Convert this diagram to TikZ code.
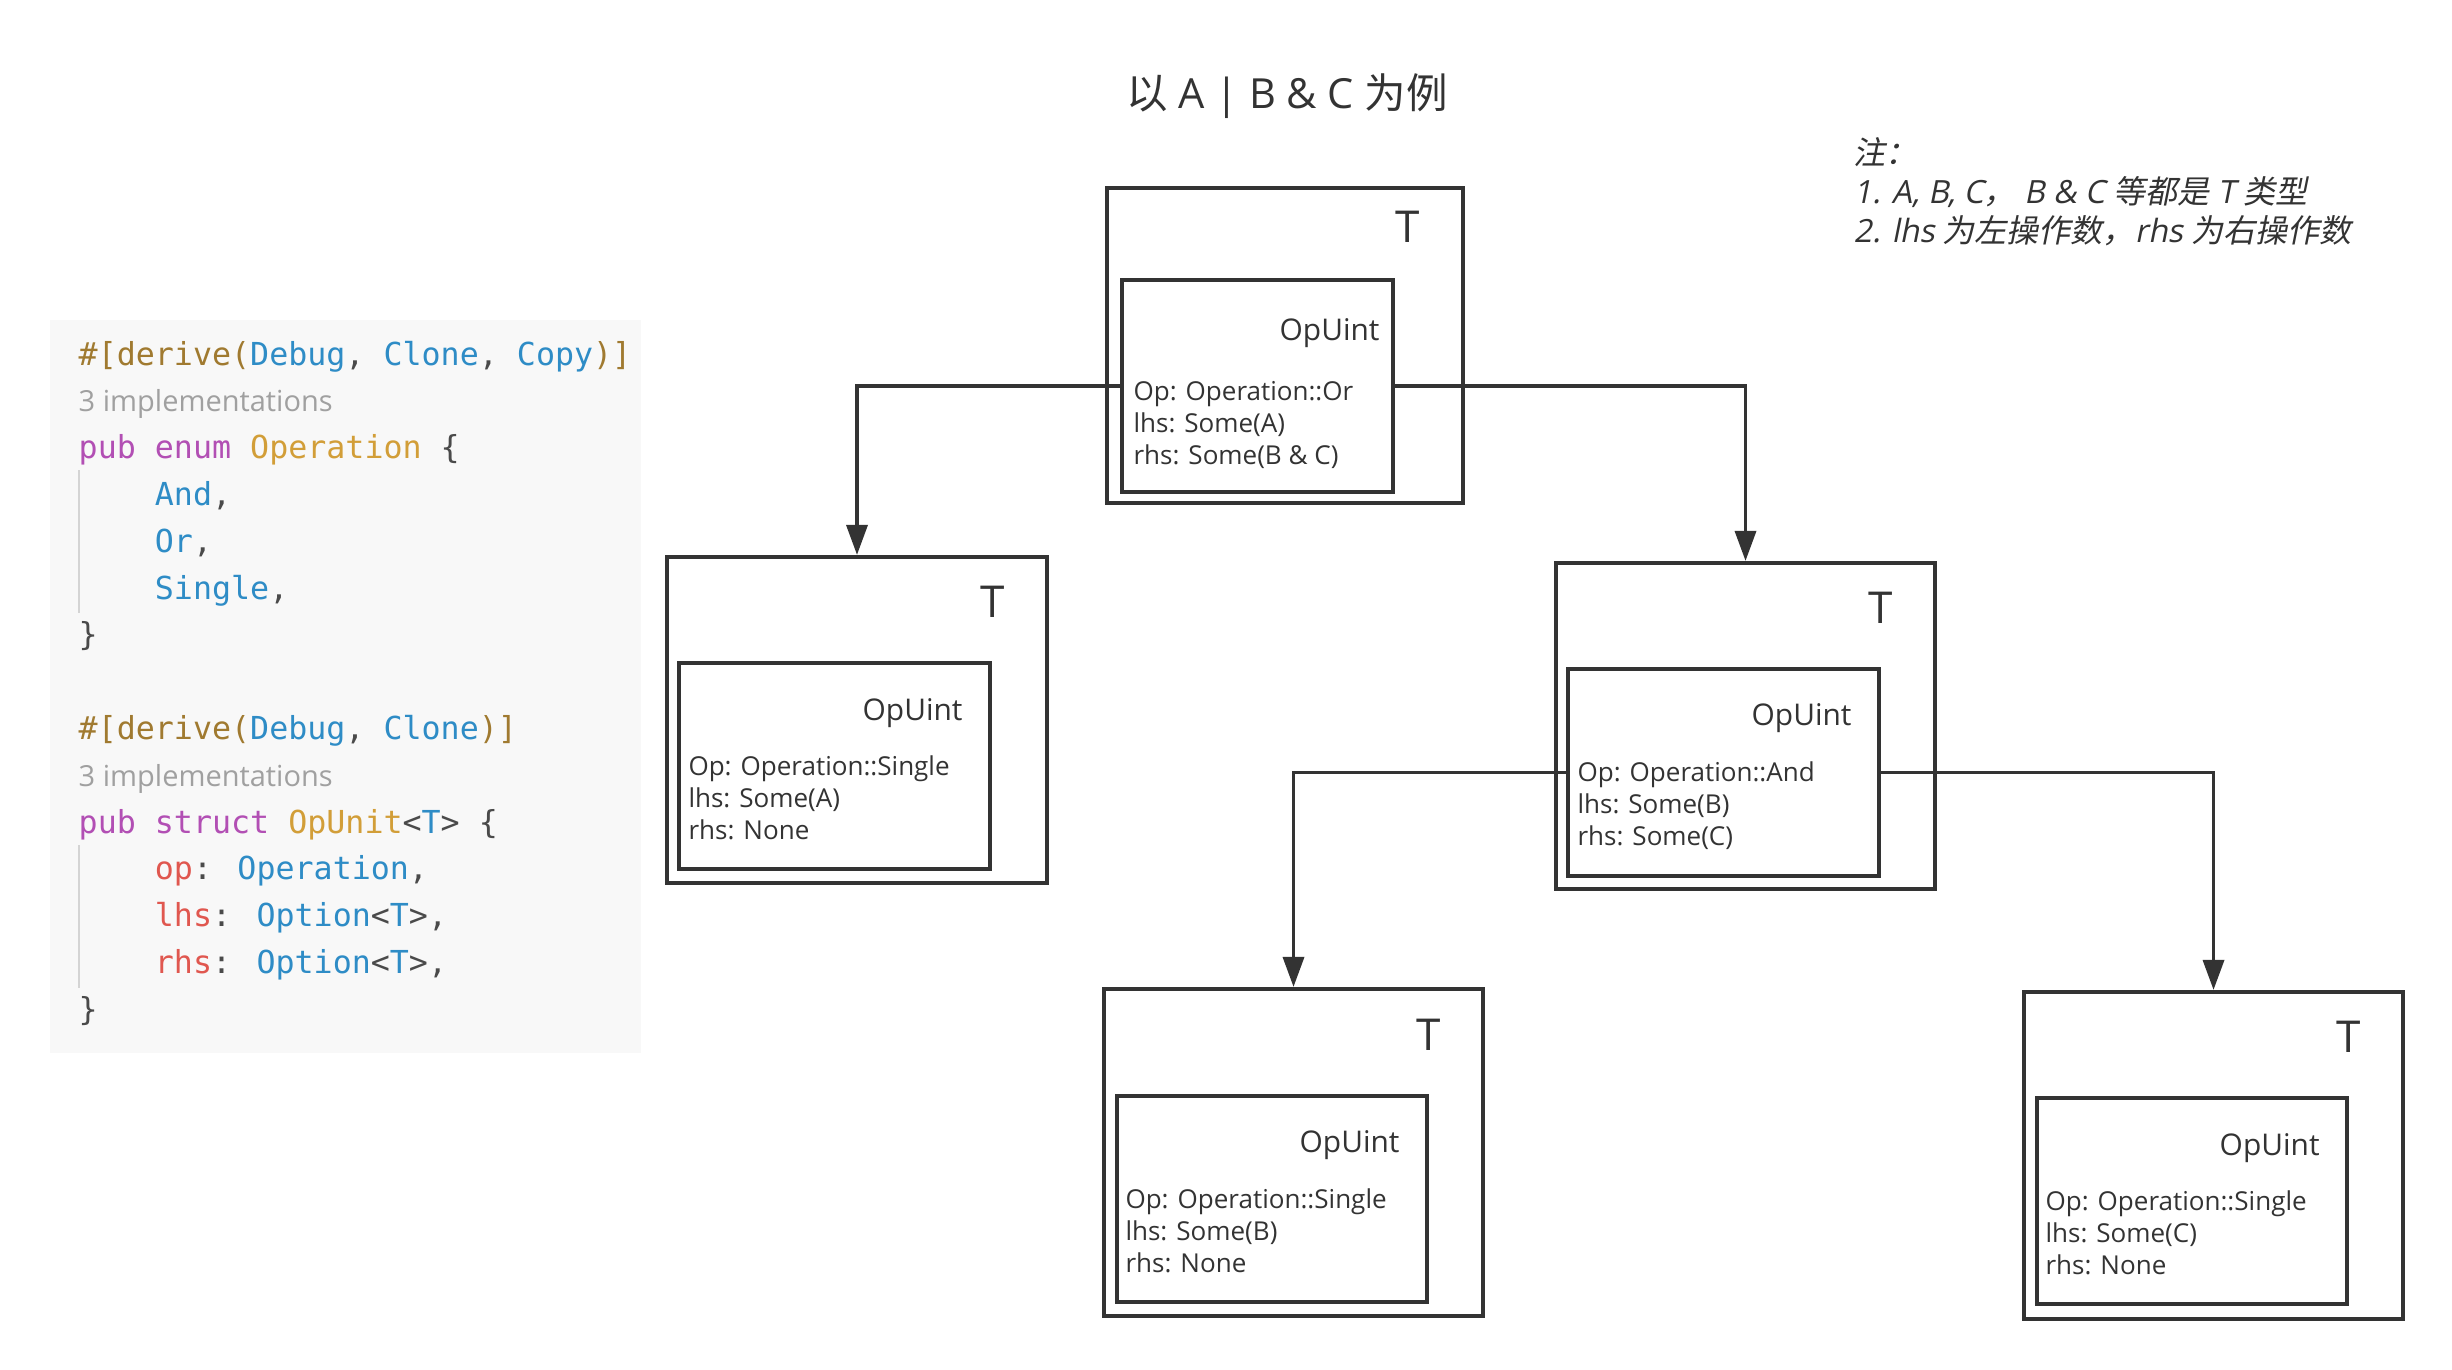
\documentclass[tikz,border=0pt]{standalone}
\usepackage{fontspec}
\setmainfont{Open Sans}
\newfontfamily\cjk{Noto Sans CJK SC}
\newfontfamily\cjkit[FakeSlant=0.2]{Noto Sans CJK SC}
\newfontfamily\latit[FakeSlant=0.2]{Open Sans}
\newfontfamily\codefont{DejaVu Sans Mono}
\usetikzlibrary{arrows.meta}
\definecolor{ink}{HTML}{333333}
\definecolor{codebg}{HTML}{F8F8F8}
\definecolor{cattr}{HTML}{A07A30}
\definecolor{cblue}{HTML}{2E8CC6}
\definecolor{ckw}{HTML}{B24FB4}
\definecolor{ctype}{HTML}{D29E38}
\definecolor{cfield}{HTML}{E0574F}
\definecolor{cpunct}{HTML}{4A4A4A}
\definecolor{cimpl}{HTML}{A0A0A0}
\definecolor{cguide}{HTML}{D4D4D4}
\tikzset{
  obox/.style={draw=ink, line width=1.15pt, inner sep=0pt},
  ibox/.style={draw=ink, line width=1.2pt, inner sep=0pt},
  conn/.style={draw=ink, line width=1pt, -{Triangle[length=3mm,width=2.1mm]}},
  tlab/.style={inner sep=0pt, text=ink, font=\fontsize{12.5}{15}\selectfont, anchor=base east},
  oplab/.style={inner sep=0pt, text=ink, font=\fontsize{8.5}{10}\selectfont, anchor=base east},
  fld/.style={inner sep=0pt, text=ink, font=\fontsize{7.4}{9}\selectfont, anchor=base west},
  codeln/.style={inner sep=0pt, anchor=base west, font=\codefont\fontsize{9.0}{11}\selectfont},
  impl/.style={inner sep=0pt, anchor=base west, text=cimpl, font=\fontsize{8.25}{10}\selectfont},
  notes/.style={inner sep=0pt, anchor=base west, text=ink, font=\fontsize{9.1}{11}\selectfont},
  guide/.style={draw=cguide, line width=0.5pt}
}
\newcommand\fieldtext[5]{%
  \coordinate (#1-o) at ([shift={#2}]#1in.north west);
  \node[fld] (#1-a) at (#1-o) {#3};
  \node[fld] (#1-b) at ([yshift=-9.1pt]#1-o) {#4};
  \node[fld] (#1-c) at ([yshift=-18.2pt]#1-o) {#5};
}
\newcommand\codeline[3]{\node[codeln] (#1) at (78,{365+46.8*#2}) {#3};}
\newcommand\cc[2]{\textcolor{#1}{#2}}
\begin{document}
\begin{tikzpicture}[x=0.01cm,y=-0.01cm]
\useasboundingbox (0,0) rectangle (2452,1369);
\fill[white] (0,0) rectangle (2452,1369);

% ---------- code panel ----------
\fill[codebg] (50,320) rectangle (641,1053);
\draw[guide] (79,470) -- (79,613);
\draw[guide] (79,845) -- (79,988);
\codeline{c0}{0}{\cc{cattr}{\#[derive(}\cc{cblue}{Debug}\cc{cpunct}{,} \cc{cblue}{Clone}\cc{cpunct}{,} \cc{cblue}{Copy}\cc{cattr}{)]}}
\node[impl] (c1) at (78,{365+46.8*1}) {3 implementations};
\codeline{c2}{2}{\cc{ckw}{pub} \cc{ckw}{enum} \cc{ctype}{Operation} \cc{cpunct}{\{}}
\codeline{c3}{3}{\phantom{0000}\cc{cblue}{And}\cc{cpunct}{,}}
\codeline{c4}{4}{\phantom{0000}\cc{cblue}{Or}\cc{cpunct}{,}}
\codeline{c5}{5}{\phantom{0000}\cc{cblue}{Single}\cc{cpunct}{,}}
\codeline{c6}{6}{\cc{cpunct}{\}}}
\codeline{c8}{8}{\cc{cattr}{\#[derive(}\cc{cblue}{Debug}\cc{cpunct}{,} \cc{cblue}{Clone}\cc{cattr}{)]}}
\node[impl] (c9) at (78,{365+46.8*9}) {3 implementations};
\codeline{c10}{10}{\cc{ckw}{pub} \cc{ckw}{struct} \cc{ctype}{OpUnit}\cc{cpunct}{<}\cc{cblue}{T}\cc{cpunct}{>} \cc{cpunct}{\{}}
\codeline{c11}{11}{\phantom{0000}\cc{cfield}{op}\cc{cpunct}{:} \cc{cblue}{Operation}\cc{cpunct}{,}}
\codeline{c12}{12}{\phantom{0000}\cc{cfield}{lhs}\cc{cpunct}{:} \cc{cblue}{Option}\cc{cpunct}{<}\cc{cblue}{T}\cc{cpunct}{>,}}
\codeline{c13}{13}{\phantom{0000}\cc{cfield}{rhs}\cc{cpunct}{:} \cc{cblue}{Option}\cc{cpunct}{<}\cc{cblue}{T}\cc{cpunct}{>,}}
\codeline{c14}{14}{\cc{cpunct}{\}}}

% ---------- title and notes ----------
\node[inner sep=0pt, anchor=base, text=ink, font=\fontsize{11.8}{14}\selectfont] (title) at (1287,108)
  {{\cjk 以} A | B \& C {\cjk 为例}};
\node[notes] (n0) at (1853,164) {{\cjkit 注：}};
\node[notes] (n1) at (1853,203) {{\latit 1. A, B, C}{\cjkit ，}\ {\latit B \& C }{\cjkit 等都是}{\latit\ T }{\cjkit 类型}};
\node[notes] (n2) at (1853,242) {{\latit 2. lhs }{\cjkit 为左操作数，}{\latit rhs }{\cjkit 为右操作数}};

% ---------- boxes ----------
\node[obox, minimum width=3.56cm, minimum height=3.15cm] (o1) at (1285,345.5) {};
\node[ibox, minimum width=2.71cm, minimum height=2.12cm] (o1in) at (1257.5,386) {};
\node[obox, minimum width=3.80cm, minimum height=3.26cm] (o2) at (857,720) {};
\node[ibox, minimum width=3.11cm, minimum height=2.06cm] (o2in) at (834.5,766) {};
\node[obox, minimum width=3.79cm, minimum height=3.26cm] (o3) at (1745.5,726) {};
\node[ibox, minimum width=3.11cm, minimum height=2.07cm] (o3in) at (1723.5,772.5) {};
\node[obox, minimum width=3.79cm, minimum height=3.27cm] (o4) at (1293.5,1152.5) {};
\node[ibox, minimum width=3.10cm, minimum height=2.06cm] (o4in) at (1272,1199) {};
\node[obox, minimum width=3.79cm, minimum height=3.27cm] (o5) at (2213.5,1155.5) {};
\node[ibox, minimum width=3.10cm, minimum height=2.06cm] (o5in) at (2192,1201) {};

% T labels
\node[tlab] (t1) at ([shift={(-45,57)}]o1.north east) {T};
\node[tlab] (t2) at ([shift={(-44,63)}]o2.north east) {T};
\node[tlab] (t3) at ([shift={(-44,63)}]o3.north east) {T};
\node[tlab] (t4) at ([shift={(-44,64)}]o4.north east) {T};
\node[tlab] (t5) at ([shift={(-44,63)}]o5.north east) {T};

% OpUint labels
\node[oplab] (u1) at ([shift={(-15,63)}]o1in.north east) {OpUint};
\node[oplab] (u2) at ([shift={(-29,60)}]o2in.north east) {OpUint};
\node[oplab] (u3) at ([shift={(-29,59)}]o3in.north east) {OpUint};
\node[oplab] (u4) at ([shift={(-29,59)}]o4in.north east) {OpUint};
\node[oplab] (u5) at ([shift={(-29,60)}]o5in.north east) {OpUint};

% field texts
\fieldtext{o1}{(13,123)}{Op: Operation::Or}{lhs: Some(A)}{rhs: Some(B \& C)}
\fieldtext{o2}{(11,115)}{Op: Operation::Single}{lhs: Some(A)}{rhs: None}
\fieldtext{o3}{(11,115)}{Op: Operation::And}{lhs: Some(B)}{rhs: Some(C)}
\fieldtext{o4}{(10,115)}{Op: Operation::Single}{lhs: Some(B)}{rhs: None}
\fieldtext{o5}{(10,115)}{Op: Operation::Single}{lhs: Some(C)}{rhs: None}

% ---------- connectors ----------
\draw[conn] (o1in.west) -| (o2.north);
\draw[conn] (o1in.east) -| (o3.north);
\draw[conn] (o3in.west) -| (o4.north);
\draw[conn] (o3in.east) -| (o5.north);
\end{tikzpicture}
\end{document}
